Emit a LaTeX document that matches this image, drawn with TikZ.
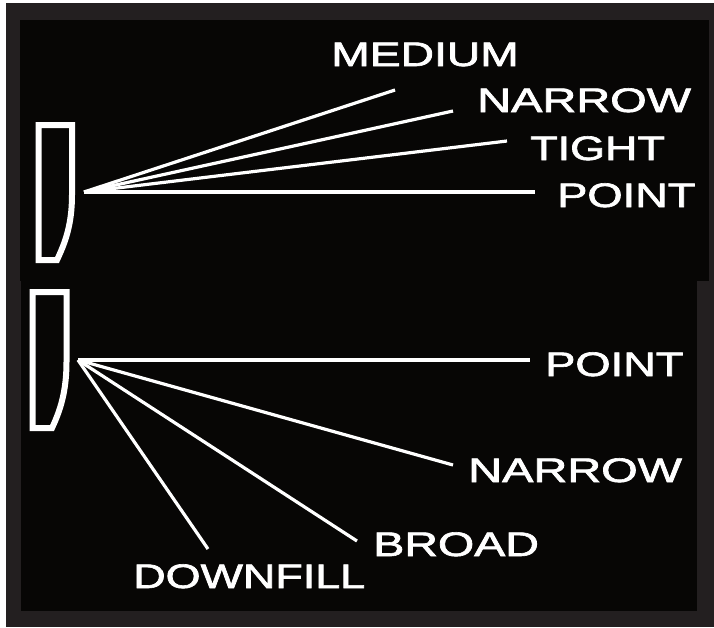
\documentclass[tikz,border=0pt]{standalone}
\usepackage{fontspec}
\setmainfont{Liberation Sans}[FakeBold=1.8]
\definecolor{framecol}{HTML}{231F20}
\definecolor{panelcol}{HTML}{070605}
\tikzset{
  beam/.style={draw=white,line width=3.2pt},
  lamp/.style={draw=white,line width=6pt,miter limit=10,fill=panelcol},
  lab/.style={text=white,anchor=base west,inner sep=0pt,font=\fontsize{34}{34}\selectfont},
}
\begin{document}
\begin{tikzpicture}[x=1pt,y=-1pt]
\useasboundingbox (0,0) rectangle (714,627);
\fill[white] (0,0) rectangle (714,627);
\fill[framecol] (6,3) rectangle (714,627);
\fill[panelcol] (20,20) rectangle (709,281);
\fill[panelcol] (21,281) rectangle (697,611);
\draw[lamp] (38.7,125) -- (72,125) -- (72,195) .. controls (72,225) and (65,243) .. (57,260) -- (38.7,260) -- cycle;
\draw[lamp] (32.5,292) -- (66.5,292) -- (66.5,362) .. controls (66.5,392) and (60,411) .. (52,428) -- (32.5,428) -- cycle;
\coordinate (o1) at (84,192);
\coordinate (o2) at (78,360);
\coordinate (e1) at (395,90);
\coordinate (e2) at (453,111);
\coordinate (e3) at (507,141);
\coordinate (e4) at (535,192);
\coordinate (f1) at (530,360);
\coordinate (f2) at (453,465);
\coordinate (f3) at (357,541);
\coordinate (f4) at (208,549);
\foreach \e in {e1,e2,e3,e4} \draw[beam] (o1) -- (\e);
\foreach \e in {f1,f2,f3,f4} \draw[beam] (o2) -- (\e);
\node[lab,xscale=1.36] (t1) at (331,66) {MEDIUM};
\node[lab,xscale=1.38] (t2) at (477,112) {NARROW};
\node[lab,xscale=1.32] (t3) at (530,160) {TIGHT};
\node[lab,xscale=1.33] (t4) at (557,207) {POINT};
\node[lab,xscale=1.33] (t5) at (545,376) {POINT};
\node[lab,xscale=1.38] (t6) at (468,482) {NARROW};
\node[lab,xscale=1.37] (t7) at (373,556) {BROAD};
\node[lab,xscale=1.32] (t8) at (133,588) {DOWNFILL};
\end{tikzpicture}
\end{document}
